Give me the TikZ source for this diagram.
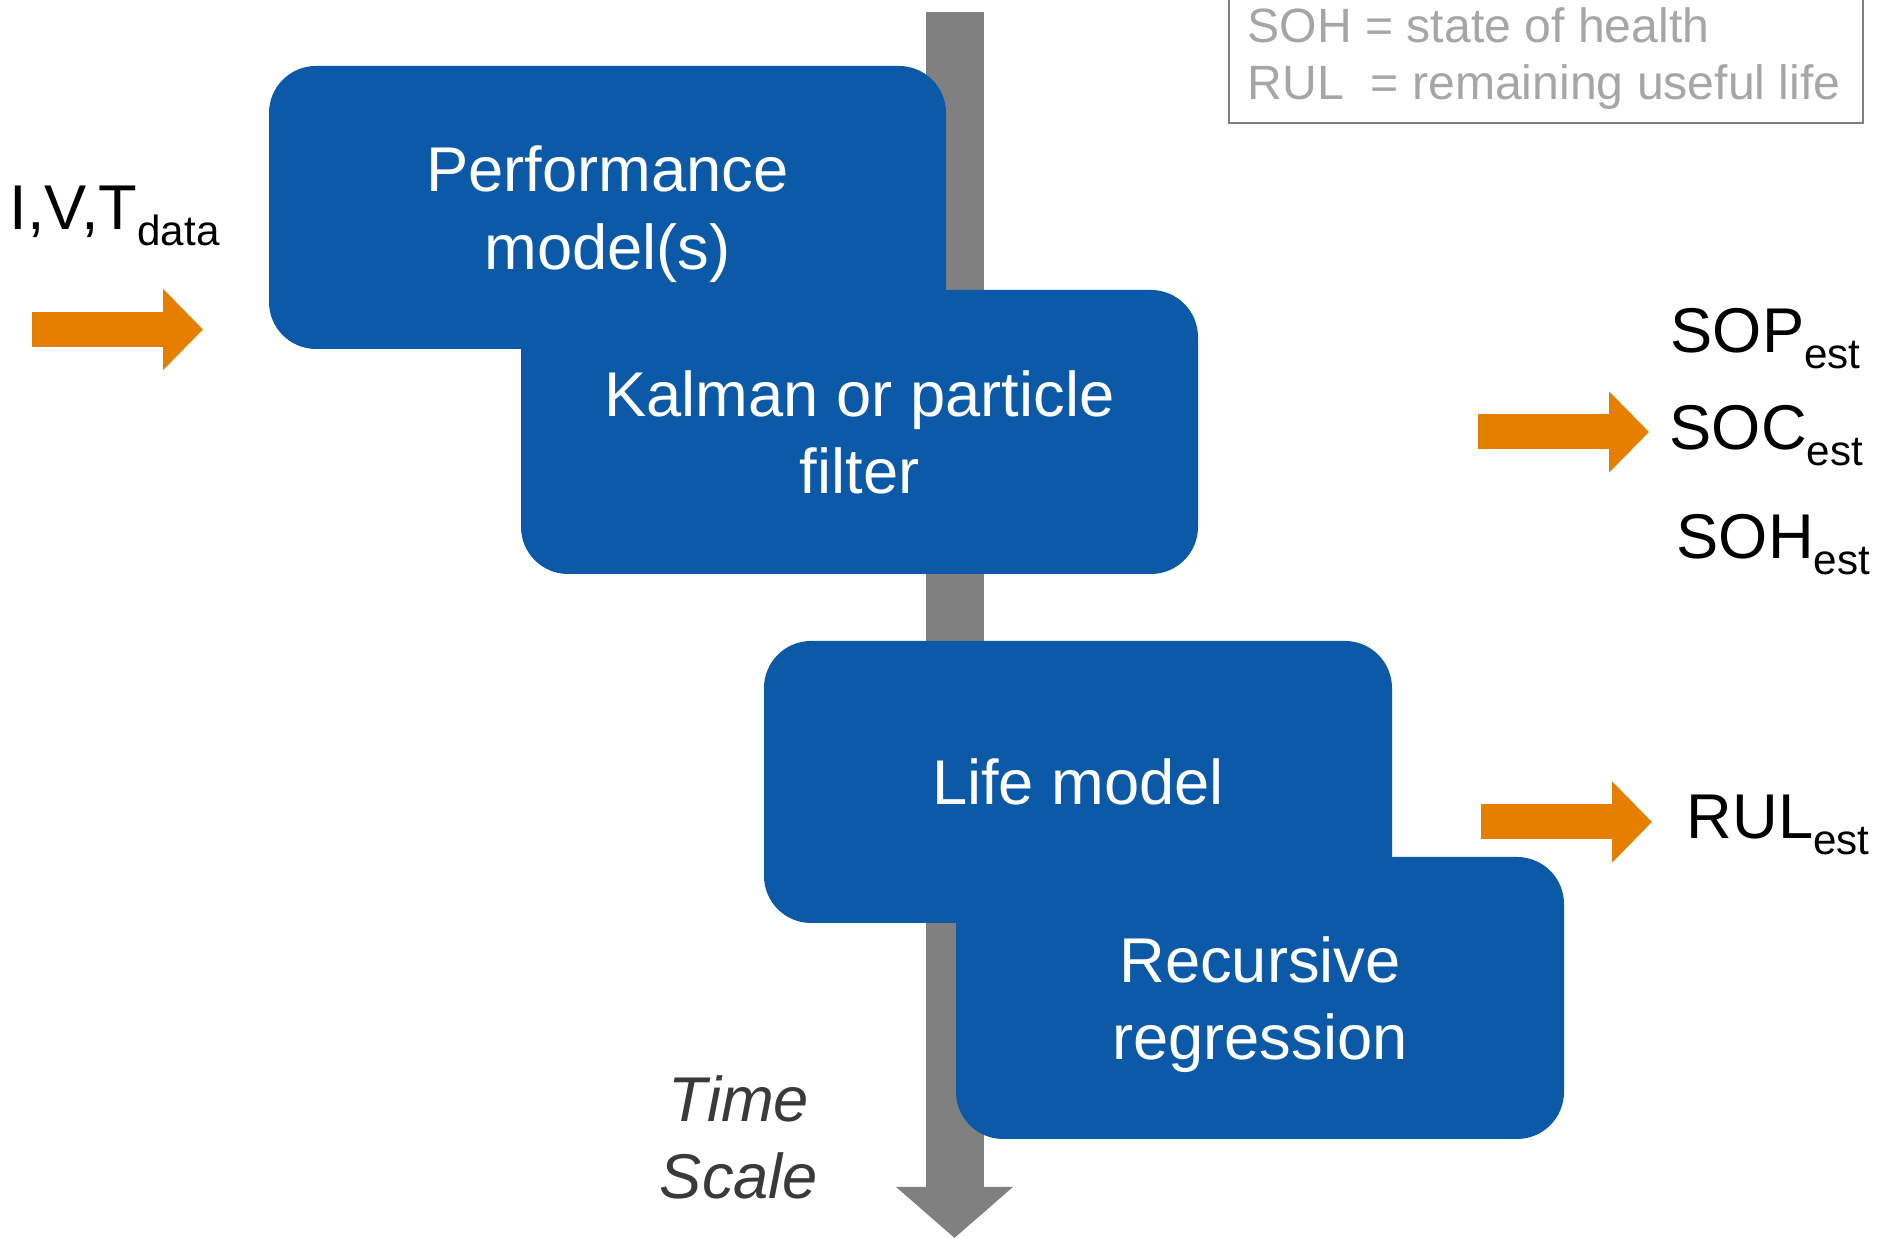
\documentclass[tikz,border=0pt]{standalone}
\usepackage{fontspec}
\setmainfont{Liberation Sans}
\usepackage{graphicx}
\usetikzlibrary{arrows.meta}
\definecolor{boxblue}{RGB}{11,89,167}
\definecolor{flowora}{RGB}{230,126,0}
\definecolor{timegray}{RGB}{128,128,128}
\definecolor{legendgray}{RGB}{166,166,166}
\definecolor{scaletext}{RGB}{58,58,58}
\newcommand{\subtxt}[1]{\raisebox{-4.5pt}{\fontsize{12}{14}\selectfont #1}}

\begin{document}
\begin{tikzpicture}[
		stage/.style={fill=boxblue, rounded corners=0.47cm, inner sep=0pt, text=white, align=center, text depth=0pt, font=\fontsize{18}{22}\selectfont},
		flow/.style={draw=flowora, line width=0.35cm, -{Triangle[length=0.40cm,width=0.79cm]}},
		outlabel/.style={anchor=base west, inner sep=0pt, font=\fontsize{18}{22}\selectfont},
		legtext/.style={anchor=base west, inner sep=0pt, text=legendgray, font=\fontsize{13.7}{16}\selectfont}
	]
		\useasboundingbox (0,0) rectangle (18.81,12.39);
		% time axis behind the stages
		\coordinate (tStart) at (9.545,12.27);
		\coordinate (tEnd) at (9.545,0.01);
		\draw[draw=timegray, line width=0.58cm, -{Triangle[length=0.51cm,width=1.14cm]}] (tStart) -- (tEnd);
		\node[stage, minimum width=6.77cm, minimum height=2.83cm] (perf) at (6.075,10.315) {Performance\\model(s)};
		\node[stage, minimum width=6.77cm, minimum height=2.84cm] (filt) at (8.595,8.07) {Kalman or particle\\filter};
		\node[stage, minimum width=6.28cm, minimum height=2.82cm] (life) at (10.78,4.57) {Life model};
		\node[stage, minimum width=6.08cm, minimum height=2.82cm] (regr) at (12.60,2.41) {Recursive\\regression};
		% inputs and outputs
		\node[outlabel] (ivt) at (0.09,10.09) {I,V,T\subtxt{data}};
		\coordinate (inTail) at (0.32,9.095);
		\coordinate (inTip) at (2.03,9.095);
		\draw[flow] (inTail) -- (inTip);
		\node[outlabel] (sop) at (16.70,8.86) {SOP\subtxt{est}};
		\node[outlabel] (soc) at (16.69,7.89) {SOC\subtxt{est}};
		\node[outlabel] (soh) at (16.76,6.80) {SOH\subtxt{est}};
		\coordinate (socTail) at (14.78,8.07);
		\coordinate (socTip) at (16.49,8.07);
		\draw[flow] (socTail) -- (socTip);
		\node[outlabel] (rul) at (16.86,4.00) {RUL\subtxt{est}};
		\coordinate (rulTail) at (14.81,4.17);
		\coordinate (rulTip) at (16.52,4.17);
		\draw[flow] (rulTail) -- (rulTip);
		\node[font=\fontsize{18}{22}\selectfont\itshape, text=scaletext, align=center, text depth=0pt, inner sep=0pt] (tscale) at (7.39,1.02) {Time\\Scale};
		% legend
		\draw[timegray, line width=0.02cm] (12.29,11.16) rectangle (18.63,12.6);
		\node[legtext] (legsoh) at (12.47,11.96) {SOH = state of health};
		\node[legtext] (legrul) at (12.47,11.39) {RUL\ \ = remaining useful life};
	\end{tikzpicture}
\end{document}
